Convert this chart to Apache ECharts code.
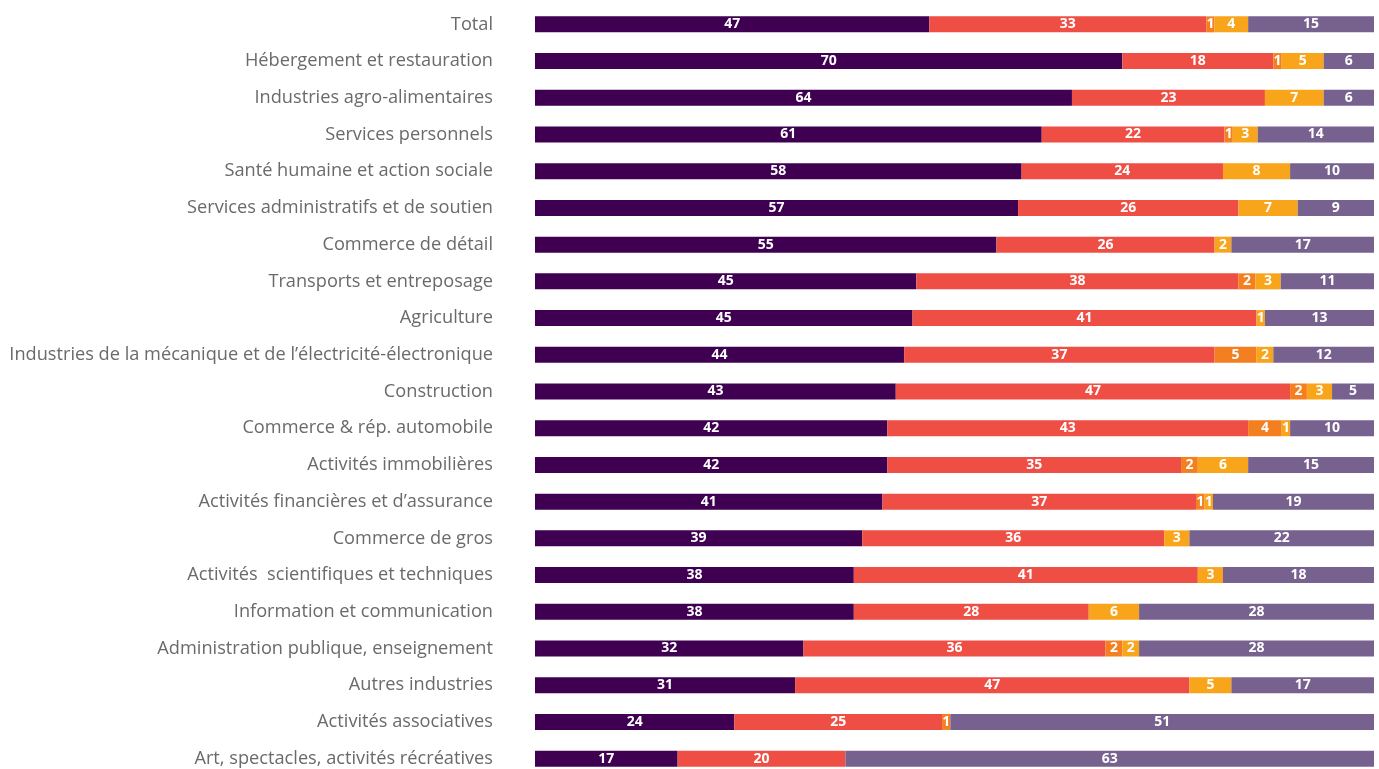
<!DOCTYPE html>
<html><head><meta charset="utf-8">
<script src="https://cdn.jsdelivr.net/npm/echarts@6/dist/echarts.min.js"></script>
<style>html,body{margin:0;padding:0;background:#fff;}#c{width:1379px;height:769px;}</style>
</head><body><div id="c"></div>
<script>
const categories = [
  "Total","Hébergement et restauration","Industries agro-alimentaires","Services personnels",
  "Santé humaine et action sociale","Services administratifs et de soutien","Commerce de détail",
  "Transports et entreposage","Agriculture","Industries de la mécanique et de l’électricité-électronique",
  "Construction","Commerce & rép. automobile","Activités immobilières","Activités financières et d’assurance",
  "Commerce de gros","Activités  scientifiques et techniques","Information et communication",
  "Administration publique, enseignement","Autres industries","Activités associatives",
  "Art, spectacles, activités récréatives"
];
const serie1 = [47,70,64,61,58,57,55,45,45,44,43,42,42,41,39,38,38,32,31,24,17];
const serie2 = [33,18,23,22,24,26,26,38,41,37,47,43,35,37,36,41,28,36,47,25,20];
const serie3 = [1,1,0,1,0,0,0,2,0,5,2,4,2,1,0,0,0,2,0,1,0];
const serie4 = [4,5,7,3,8,7,2,3,1,2,3,1,6,1,3,3,6,2,5,0,0];
const serie5 = [15,6,6,14,10,9,17,11,13,12,5,10,15,19,22,18,28,28,17,51,63];

const allSeries = [serie1, serie2, serie3, serie4, serie5];
const colors = ['#3f0052', '#ef4e45', '#f37f21', '#f8a51c', '#77618f'];
const totals = categories.map((_, i) => allSeries.reduce((s, a) => s + a[i], 0));

const chart = echarts.init(document.getElementById('c'), null, {renderer: 'canvas'});
chart.setOption({
  animation: false,
  grid: {left: 535, right: 5, top: 6, height: 771, containLabel: false, outerBoundsMode: 'none'},
  xAxis: {type: 'value', min: 0, max: 100, show: false},
  yAxis: {
    type: 'category', data: categories, inverse: true,
    axisLine: {show: false}, axisTick: {show: false}, splitLine: {show: false},
    axisLabel: {margin: 42, color: '#6a6a6a', fontSize: 18.2, fontFamily: 'Open Sans', padding: [0,0,5,0]}
  },
  series: allSeries.map((arr, k) => ({
    type: 'bar', stack: 'all', barWidth: 16,
    itemStyle: {color: colors[k]},
    data: arr.map((v, i) => ({value: v * 100 / totals[i], raw: v})),
    label: {
      show: true, position: 'inside', color: '#fff', fontWeight: 'bold',
      fontSize: 14, fontFamily: 'Open Sans',
      formatter: p => (p.data.raw > 0 ? String(p.data.raw) : '')
    }
  }))
});
</script></body></html>
